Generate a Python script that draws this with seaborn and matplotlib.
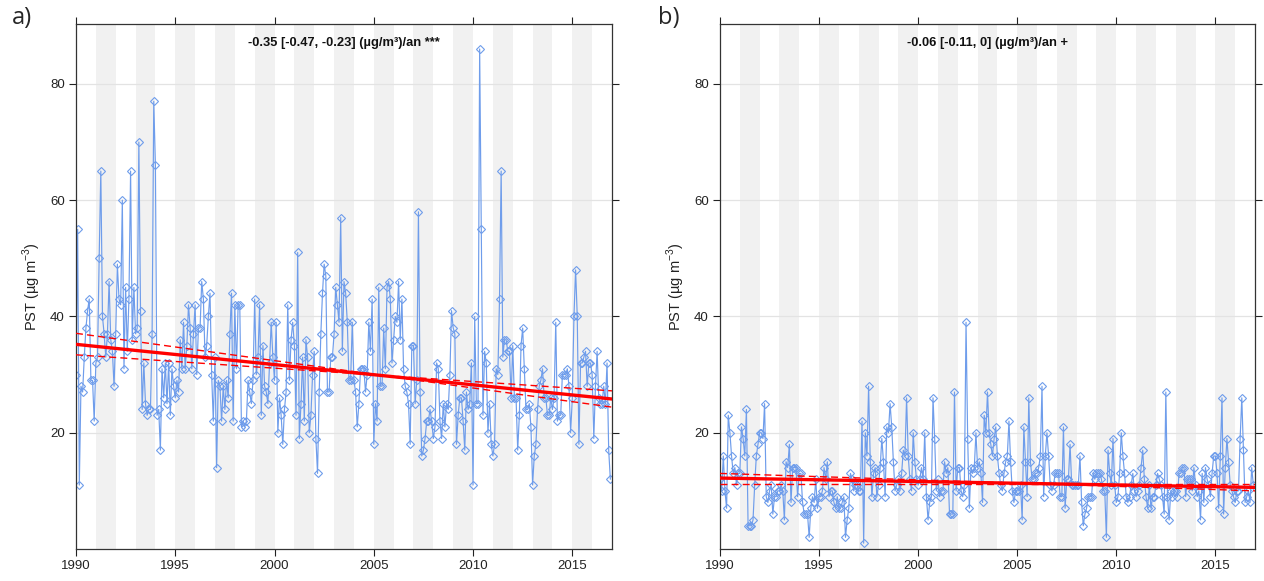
import numpy as np
import pandas as pd
import matplotlib
matplotlib.use("Agg")
import matplotlib.pyplot as plt
import seaborn as sns

# monthly PST means, Jan 1990 - Dec 2016 (one row per year)
pst_a = [
    30, 55, 11, 28, 27, 33, 38, 41, 43, 29, 29, 22,
    32, 33, 50, 65, 40, 37, 33, 37, 46, 36, 34, 28,
    37, 49, 43, 42, 60, 31, 45, 34, 43, 65, 36, 45,
    37, 38, 70, 41, 24, 32, 25, 23, 24, 24, 37, 77,
    66, 23, 24, 17, 31, 26, 32, 25, 32, 23, 31, 28,
    26, 29, 27, 36, 31, 39, 31, 35, 42, 38, 31, 37,
    42, 30, 38, 38, 46, 43, 33, 35, 40, 44, 30, 22,
    33, 14, 29, 28, 22, 28, 24, 29, 26, 37, 44, 22,
    42, 31, 42, 42, 21, 22, 21, 22, 29, 27, 25, 29,
    43, 30, 33, 42, 23, 35, 28, 27, 25, 32, 39, 33,
    29, 39, 20, 26, 23, 18, 24, 27, 42, 29, 36, 39,
    35, 23, 51, 19, 25, 33, 22, 36, 33, 20, 23, 30,
    34, 19, 13, 27, 37, 44, 49, 47, 27, 27, 33, 33,
    37, 45, 42, 39, 57, 34, 46, 44, 39, 29, 29, 39,
    29, 27, 21, 25, 31, 31, 31, 27, 30, 39, 34, 43,
    18, 25, 22, 45, 28, 28, 38, 31, 45, 46, 43, 32,
    36, 40, 39, 46, 36, 43, 31, 28, 27, 25, 18, 35,
    35, 25, 29, 58, 27, 16, 17, 19, 22, 22, 24, 22,
    19, 21, 32, 31, 22, 19, 25, 21, 25, 24, 30, 41,
    38, 37, 18, 23, 26, 26, 22, 17, 27, 24, 25, 32,
    11, 40, 25, 25, 86, 55, 23, 34, 32, 20, 25, 18,
    16, 18, 31, 30, 43, 65, 33, 36, 36, 34, 34, 26,
    35, 26, 26, 17, 23, 35, 38, 31, 24, 24, 25, 21,
    11, 16, 18, 24, 28, 29, 31, 26, 26, 23, 23, 26,
    24, 26, 39, 22, 23, 23, 30, 30, 30, 31, 28, 20,
    26, 40, 48, 40, 18, 32, 32, 33, 34, 28, 32, 32,
    30, 19, 28, 34, 26, 25, 25, 28, 25, 32, 17, 12,
]

pst_b = [
    12, 10, 16, 10, 7, 23, 20, 16, 13, 14, 11, 13,
    13, 21, 19, 16, 24, 4, 4, 4, 5, 11, 16, 18,
    20, 20, 19, 25, 9, 8, 10, 11, 6, 9, 9, 10,
    10, 11, 10, 5, 15, 14, 18, 8, 14, 14, 14, 9,
    13, 13, 8, 6, 6, 6, 2, 7, 9, 8, 12, 7,
    9, 9, 10, 14, 12, 15, 9, 10, 10, 8, 7, 9,
    7, 7, 8, 9, 2, 5, 7, 13, 12, 10, 11, 11,
    10, 10, 22, 1, 20, 16, 28, 15, 9, 13, 14, 9,
    11, 14, 19, 15, 9, 21, 20, 25, 21, 15, 10, 11,
    12, 10, 13, 17, 16, 26, 16, 12, 10, 20, 15, 12,
    11, 12, 14, 12, 20, 9, 5, 8, 9, 26, 19, 10,
    12, 9, 10, 10, 15, 13, 14, 6, 6, 6, 27, 10,
    14, 14, 10, 9, 11, 39, 19, 7, 14, 13, 14, 20,
    14, 15, 13, 8, 23, 20, 27, 20, 18, 16, 19, 21,
    16, 13, 11, 10, 13, 15, 16, 22, 15, 10, 8, 10,
    10, 10, 11, 5, 21, 15, 9, 26, 15, 12, 12, 13,
    13, 14, 16, 28, 9, 16, 20, 16, 11, 10, 11, 13,
    13, 13, 9, 9, 21, 7, 12, 12, 18, 11, 11, 11,
    11, 11, 16, 8, 4, 6, 7, 9, 9, 9, 13, 12,
    13, 13, 13, 12, 10, 10, 2, 17, 13, 11, 19, 11,
    8, 9, 13, 20, 16, 13, 9, 8, 9, 11, 13, 10,
    9, 10, 11, 14, 17, 12, 9, 7, 11, 7, 9, 9,
    11, 13, 12, 11, 9, 6, 27, 9, 5, 10, 9, 10,
    10, 9, 13, 13, 14, 14, 9, 12, 12, 12, 10, 14,
    11, 9, 10, 5, 13, 8, 14, 12, 11, 9, 13, 16,
    16, 13, 7, 16, 26, 6, 14, 19, 15, 11, 10, 9,
    8, 10, 10, 19, 26, 17, 8, 9, 10, 8, 14, 11,
]

# Theil-Sen trend and its confidence lines, values at 1990 and 2017
trend_x = [1990, 2017]
trend_a = [35.2, 25.8]
ci_a_lo = [37.1, 24.4]
ci_a_hi = [33.4, 27.2]
trend_b = [12.2, 10.6]
ci_b_lo = [13.0, 10.0]
ci_b_hi = [11.1, 11.1]

titles = ["-0.35 [-0.47, -0.23] (µg/m³)/an ***",
          "-0.06 [-0.11, 0] (µg/m³)/an +"]
panel_labels = ["a)", "b)"]
year_ticks = [1990, 1995, 2000, 2005, 2010, 2015]
y_ticks = [20, 40, 60, 80]

sns.set_theme(style="white")
plt.rcParams["font.family"] = ["Liberation Sans", "DejaVu Sans"]

time = 1990 + np.arange(len(pst_a)) / 12.0
df = pd.DataFrame({"time": time, "a": pst_a, "b": pst_b})

fig = plt.figure(figsize=(12.64, 5.81), dpi=100)
ax_a = fig.add_axes([76 / 1264, 1 - 549 / 581, 536 / 1264, 525 / 581])
ax_b = fig.add_axes([720 / 1264, 1 - 549 / 581, 535 / 1264, 525 / 581])

line_col = "#6F9DEB"
panels = [(ax_a, "a", trend_a, ci_a_lo, ci_a_hi),
          (ax_b, "b", trend_b, ci_b_lo, ci_b_hi)]

for i, (ax, col, tr, lo, hi) in enumerate(panels):
    # alternating year shading
    for yr in range(1991, 2016, 2):
        ax.axvspan(yr, yr + 1, color="#F1F1F1", lw=0, zorder=0)
    for yv in y_ticks:
        ax.axhline(yv, color="#E3E3E3", lw=0.9, zorder=0.5)

    sns.lineplot(data=df, x="time", y=col, ax=ax, color=line_col, lw=0.85,
                 marker="D", markersize=3.6, markerfacecolor="none",
                 markeredgecolor=line_col, markeredgewidth=0.8, zorder=2)
    sns.lineplot(x=trend_x, y=tr, ax=ax, color="red", lw=2.4, zorder=3)
    sns.lineplot(x=trend_x, y=lo, ax=ax, color="red", lw=1.0,
                 linestyle=(0, (5, 3)), zorder=3)
    sns.lineplot(x=trend_x, y=hi, ax=ax, color="red", lw=1.0,
                 linestyle=(0, (5, 3)), zorder=3)

    ax.set_xlim(1990, 2017)
    ax.set_ylim(0, 90.3)
    ax.set_xticks(year_ticks)
    ax.set_yticks(y_ticks)
    ax.tick_params(direction="out", length=5, width=0.8, color="#222222",
                   top=True, right=True, bottom=True, left=True,
                   labelsize=9.5, labelcolor="#222222", pad=3)
    ax.set_xlabel("")
    ax.set_ylabel("PST (µg m$^{\\mathregular{-3}}$)", fontsize=10.5,
                  color="#222222", labelpad=5)
    for sp in ax.spines.values():
        sp.set_color("#333333")
        sp.set_linewidth(0.9)

    ax.text(0.5, 0.975, titles[i], transform=ax.transAxes, ha="center",
            va="top", fontsize=9.3, fontweight="bold", color="#111111")

fig.text(12 / 1264, 1 - 18 / 581, panel_labels[0], fontsize=17,
         family="Open Sans", va="center", ha="left")
fig.text(658 / 1264, 1 - 18 / 581, panel_labels[1], fontsize=17,
         family="Open Sans", va="center", ha="left")

fig.savefig("out.png", dpi=100)
